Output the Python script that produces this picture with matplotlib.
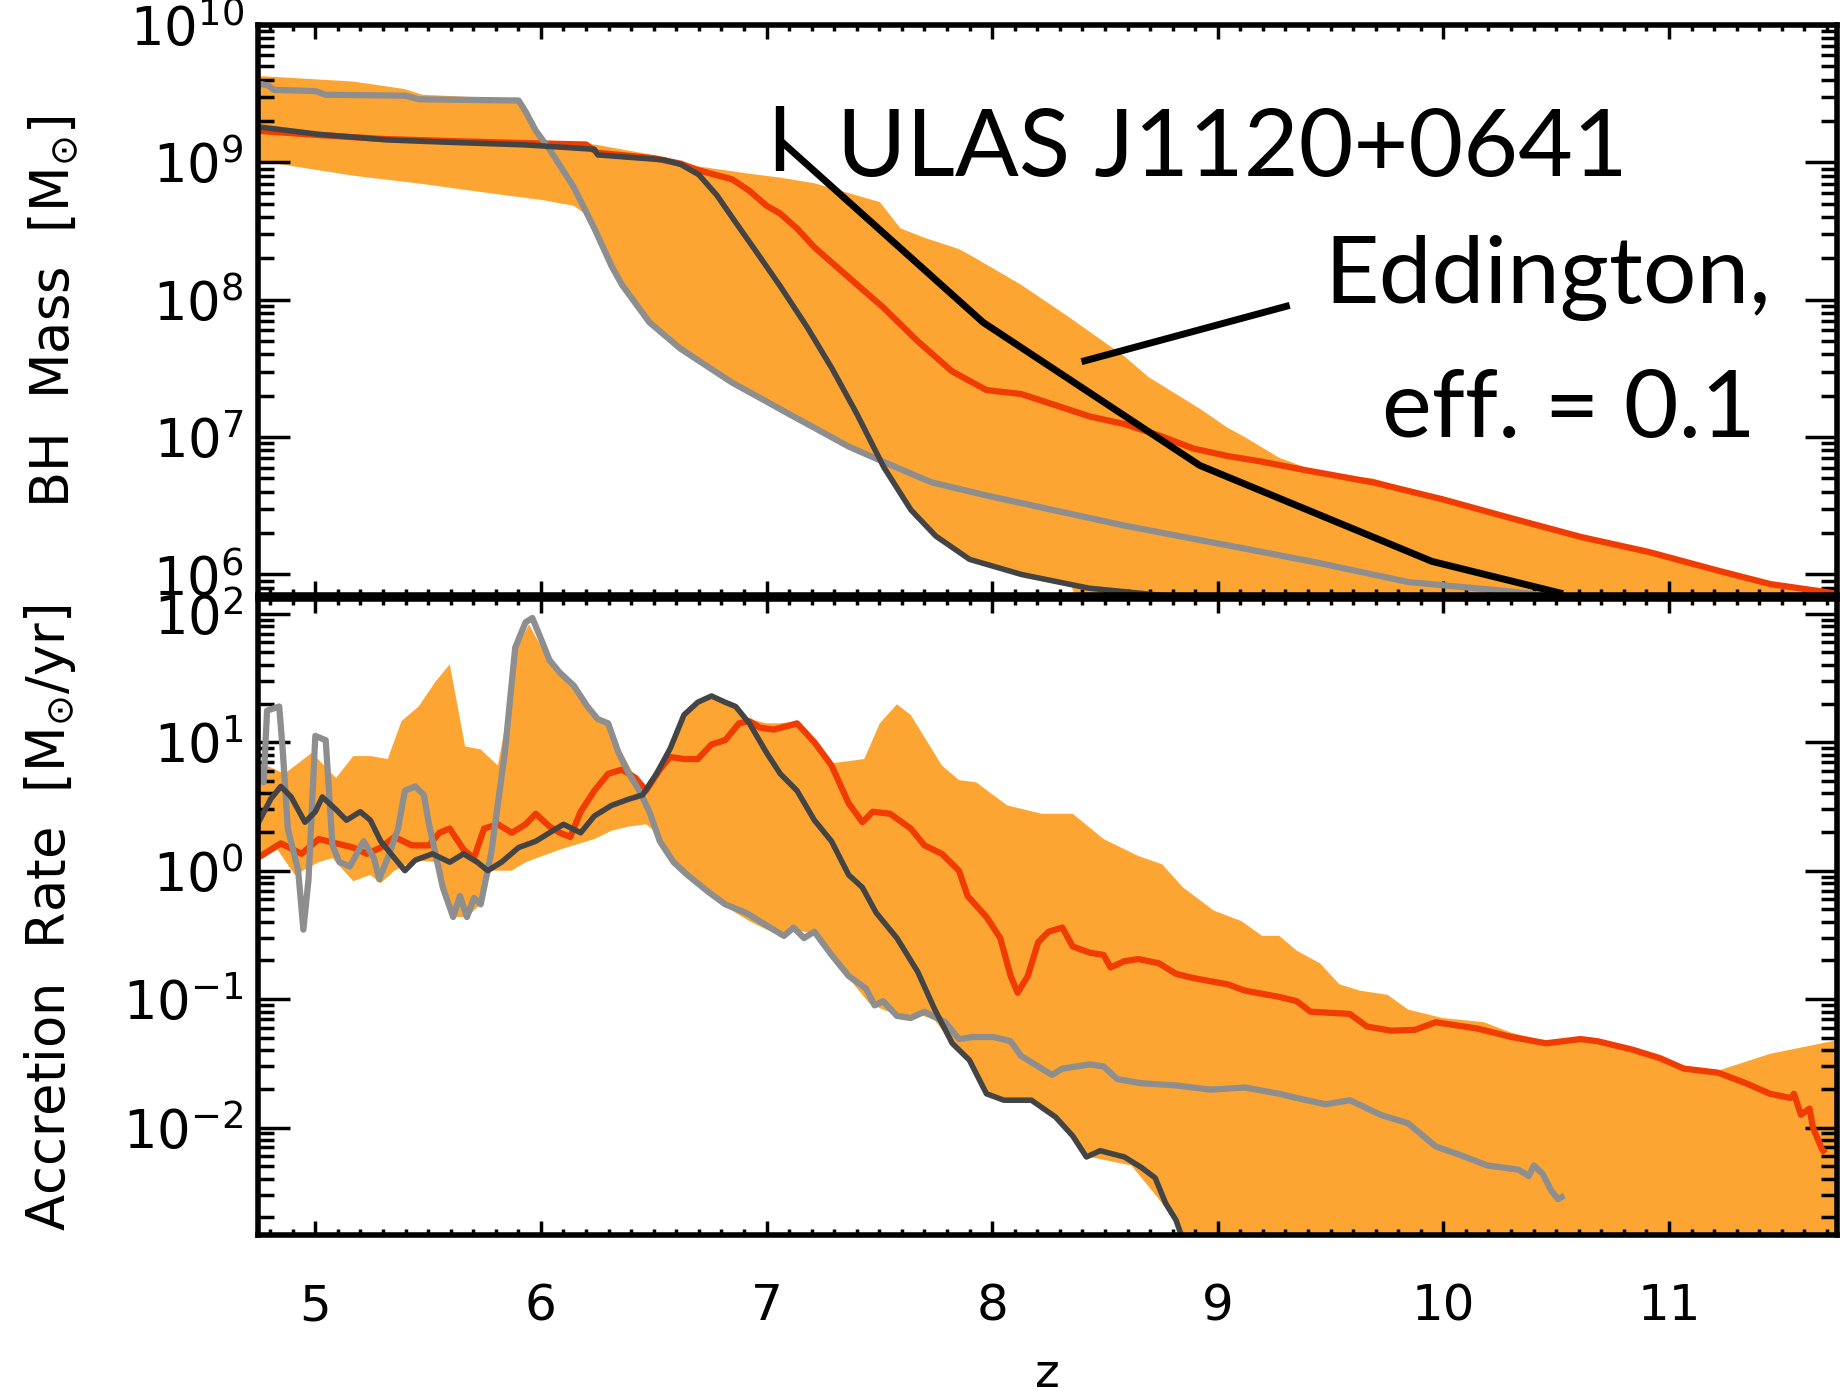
import numpy as np
import matplotlib
matplotlib.use('Agg')
import matplotlib.pyplot as plt
from matplotlib.ticker import MultipleLocator, LogLocator, NullFormatter

# redshift range shared by both panels
ZMIN, ZMAX = 4.744, 11.745

# ---- BH mass panel: (z, log10 M/Msun) ----
mass_band_hi = [(4.744, 9.629), (5.168, 9.588), (5.397, 9.533), (5.474, 9.492), (5.90, 9.46),
                (5.95, 9.35), (5.99, 9.20), (6.03, 9.14), (6.237, 9.13), (6.543, 9.04), (6.619, 9.00),
                (6.695, 8.971), (6.924, 8.917), (7.059, 8.889), (7.212, 8.848), (7.502, 8.711),
                (7.594, 8.519), (7.70, 8.451), (7.853, 8.369), (7.914, 8.314), (8.128, 8.109),
                (8.326, 7.89), (8.586, 7.588), (8.693, 7.437), (8.922, 7.205), (9.044, 7.068),
                (9.12, 7.0), (9.273, 6.849), (9.453, 6.74), (9.69, 6.698), (9.997, 6.547),
                (10.30, 6.41), (10.61, 6.273), (10.91, 6.164), (11.22, 6.027), (11.45, 5.93),
                (11.68, 5.876), (11.745, 5.86)]
mass_band_lo = [(4.744, 9.012), (5.168, 8.903), (5.474, 8.843), (5.779, 8.774), (6.008, 8.725),
                (6.145, 8.684), (6.20, 8.62), (6.237, 8.519), (6.313, 8.245), (6.359, 8.109),
                (6.481, 7.835), (6.619, 7.643), (6.848, 7.396), (7.0, 7.259), (7.104, 7.15),
                (7.212, 7.068), (7.364, 6.931), (7.50, 6.83), (7.52, 6.78), (7.64, 6.47),
                (7.75, 6.28), (7.90, 6.11), (8.13, 6.0), (8.35, 5.92), (8.45, 5.5), (11.745, 5.5)]
mass_red = [(4.744, 9.23), (5.0, 9.20), (5.3, 9.17), (5.6, 9.155), (5.93, 9.14), (6.2, 9.13),
            (6.25, 9.07), (6.5, 9.03), (6.62, 8.99), (6.695, 8.944), (6.848, 8.876), (6.924, 8.793),
            (7.0, 8.684), (7.059, 8.629), (7.135, 8.519), (7.212, 8.382), (7.364, 8.163),
            (7.517, 7.944), (7.67, 7.698), (7.822, 7.479), (7.975, 7.342), (8.128, 7.314),
            (8.281, 7.232), (8.433, 7.15), (8.586, 7.095), (8.739, 7.013), (8.891, 6.917),
            (9.044, 6.862), (9.197, 6.821), (9.386, 6.76), (9.69, 6.67), (9.997, 6.547),
            (10.30, 6.41), (10.61, 6.273), (10.91, 6.164), (11.22, 6.027), (11.45, 5.93),
            (11.68, 5.876), (11.745, 5.86)]
mass_dark = [(4.744, 9.259), (5.015, 9.204), (5.321, 9.163), (5.626, 9.144), (5.932, 9.127),
             (6.237, 9.095), (6.252, 9.054), (6.543, 9.018), (6.62, 8.985), (6.70, 8.91),
             (6.78, 8.76), (6.86, 8.57), (6.95, 8.36), (7.06, 8.10), (7.18, 7.80), (7.29, 7.50),
             (7.40, 7.17), (7.52, 6.78), (7.64, 6.47), (7.75, 6.28), (7.90, 6.11), (8.13, 6.0),
             (8.43, 5.90), (8.74, 5.85), (9.0, 5.82)]
mass_grey = [(4.744, 9.574), (4.79, 9.56), (4.817, 9.527), (5.0, 9.519), (5.046, 9.492),
             (5.40, 9.485), (5.458, 9.459), (5.901, 9.45), (5.932, 9.369), (5.977, 9.231),
             (6.038, 9.095), (6.145, 8.821), (6.237, 8.519), (6.313, 8.245), (6.359, 8.109),
             (6.481, 7.835), (6.619, 7.643), (6.848, 7.396), (7.0, 7.259), (7.104, 7.164),
             (7.212, 7.068), (7.364, 6.931), (7.517, 6.821), (7.731, 6.671), (7.975, 6.575),
             (8.357, 6.438), (8.586, 6.356), (8.891, 6.26), (9.197, 6.164), (9.453, 6.082),
             (9.844, 5.945), (10.30, 5.876), (10.6, 5.82)]
# Eddington-limited growth track of ULAS J1120+0641 and its mass range
edd_track = [(7.06, 9.16), (7.96, 7.835), (8.92, 6.794), (9.95, 6.095), (10.53, 5.86)]
qso_z, qso_logm_lo, qso_logm_hi = 7.06, 8.94, 9.41

# ---- accretion rate panel: (z, log10 Mdot [Msun/yr]) ----
rate_band_hi = [(4.744, 0.852), (4.863, 0.754), (4.985, 0.918), (5.092, 0.721), (5.168, 0.892),
                (5.244, 0.892), (5.321, 0.869), (5.382, 1.164), (5.458, 1.278), (5.534, 1.475),
                (5.596, 1.606), (5.664, 0.967), (5.733, 0.944), (5.809, 0.819), (5.855, 1.246),
                (5.886, 1.705), (5.947, 1.918), (6.038, 1.623), (6.145, 1.426), (6.237, 1.213),
                (6.298, 1.147), (6.359, 0.918), (6.420, 0.721), (6.466, 0.623), (6.512, 0.737),
                (6.573, 0.951), (6.634, 1.229), (6.695, 1.327), (6.756, 1.377), (6.817, 1.327),
                (6.878, 1.246), (6.924, 1.180), (7.000, 1.147), (7.059, 1.147), (7.135, 1.164),
                (7.212, 1.016), (7.288, 0.836), (7.433, 0.869), (7.502, 1.147), (7.578, 1.295),
                (7.639, 1.213), (7.777, 0.819), (7.853, 0.705), (7.929, 0.688), (8.067, 0.508),
                (8.220, 0.443), (8.357, 0.443), (8.494, 0.246), (8.647, 0.115), (8.754, 0.049),
                (8.846, -0.131), (8.983, -0.311), (9.105, -0.393), (9.197, -0.508), (9.273, -0.508),
                (9.350, -0.623), (9.453, -0.721), (9.539, -0.885), (9.630, -0.934), (9.753, -0.967),
                (9.844, -1.082), (9.997, -1.147), (10.180, -1.180), (10.302, -1.262),
                (10.455, -1.328), (10.684, -1.328), (10.913, -1.442), (11.066, -1.524),
                (11.218, -1.557), (11.448, -1.426), (11.745, -1.320)]
rate_band_lo = [(4.744, 0.082), (4.832, 0.164), (4.909, -0.033), (5.015, 0.066), (5.076, 0.098),
                (5.168, -0.082), (5.244, -0.033), (5.290, -0.098), (5.351, 0.0), (5.443, 0.082),
                (5.534, 0.066), (5.565, -0.131), (5.611, -0.361), (5.672, -0.361), (5.733, -0.262),
                (5.779, 0.0), (5.871, 0.0), (5.932, 0.066), (6.008, 0.115), (6.084, 0.164),
                (6.237, 0.246), (6.313, 0.311), (6.390, 0.344), (6.466, 0.361), (6.512, 0.295),
                (6.573, 0.098), (6.634, -0.033), (6.726, -0.164), (6.817, -0.279), (6.924, -0.393),
                (7.000, -0.459), (7.077, -0.508), (7.120, -0.459), (7.212, -0.492), (7.288, -0.639),
                (7.364, -0.836), (7.456, -1.033), (7.517, -1.082), (7.593, -1.131), (7.670, -1.115),
                (7.746, -1.164), (7.823, -1.344), (7.899, -1.475), (7.975, -1.737), (8.052, -1.787),
                (8.174, -1.787), (8.281, -1.918), (8.357, -2.065), (8.433, -2.229), (8.617, -2.295),
                (8.739, -2.557), (8.830, -2.770), (8.846, -3.5), (11.745, -3.5)]
rate_red = [(4.744, 0.098), (4.847, 0.213), (4.939, 0.131), (5.015, 0.246), (5.092, 0.213),
            (5.168, 0.180), (5.229, 0.131), (5.290, 0.180), (5.351, 0.262), (5.428, 0.197),
            (5.504, 0.197), (5.550, 0.295), (5.596, 0.328), (5.657, 0.164), (5.703, 0.098),
            (5.748, 0.328), (5.809, 0.361), (5.871, 0.295), (5.932, 0.361), (5.977, 0.443),
            (6.038, 0.344), (6.084, 0.295), (6.130, 0.262), (6.176, 0.459), (6.237, 0.623),
            (6.298, 0.754), (6.359, 0.787), (6.420, 0.721), (6.466, 0.623), (6.527, 0.787),
            (6.573, 0.885), (6.634, 0.869), (6.695, 0.869), (6.756, 0.983), (6.817, 1.016),
            (6.878, 1.147), (6.924, 1.164), (6.970, 1.114), (7.031, 1.098), (7.104, 1.131),
            (7.135, 1.147), (7.212, 1.000), (7.288, 0.819), (7.364, 0.524), (7.425, 0.377),
            (7.471, 0.459), (7.548, 0.443), (7.639, 0.328), (7.700, 0.197), (7.777, 0.131),
            (7.853, 0.0), (7.891, -0.197), (7.975, -0.361), (8.036, -0.525), (8.082, -0.820),
            (8.113, -0.951), (8.158, -0.820), (8.204, -0.557), (8.250, -0.475), (8.311, -0.443),
            (8.357, -0.590), (8.433, -0.639), (8.494, -0.656), (8.525, -0.754), (8.586, -0.705),
            (8.647, -0.688), (8.739, -0.721), (8.815, -0.803), (8.891, -0.836), (9.044, -0.885),
            (9.120, -0.934), (9.273, -0.983), (9.350, -1.016), (9.411, -1.098), (9.585, -1.115),
            (9.661, -1.213), (9.768, -1.246), (9.875, -1.239), (9.966, -1.180), (10.150, -1.229),
            (10.302, -1.295), (10.455, -1.344), (10.608, -1.311), (10.684, -1.328),
            (10.837, -1.393), (10.959, -1.459), (11.066, -1.541), (11.218, -1.573),
            (11.341, -1.655), (11.448, -1.737), (11.539, -1.770), (11.554, -1.737),
            (11.585, -1.901), (11.623, -1.852), (11.638, -2.000), (11.677, -2.164), (11.684, -2.180)]
rate_dark = [(4.744, 0.361), (4.802, 0.557), (4.847, 0.656), (4.893, 0.574), (4.954, 0.377),
             (5.000, 0.459), (5.031, 0.574), (5.092, 0.475), (5.138, 0.393), (5.199, 0.459),
             (5.244, 0.393), (5.290, 0.229), (5.351, 0.098), (5.397, 0.0), (5.443, 0.082),
             (5.519, 0.131), (5.596, 0.066), (5.657, 0.131), (5.718, 0.066), (5.764, 0.0),
             (5.825, 0.066), (5.901, 0.180), (5.977, 0.229), (6.038, 0.295), (6.100, 0.361),
             (6.176, 0.295), (6.237, 0.426), (6.313, 0.508), (6.390, 0.557), (6.451, 0.590),
             (6.512, 0.754), (6.573, 0.951), (6.634, 1.213), (6.695, 1.311), (6.756, 1.360),
             (6.817, 1.311), (6.863, 1.278), (6.924, 1.147), (7.000, 0.918), (7.061, 0.754),
             (7.135, 0.623), (7.212, 0.393), (7.288, 0.229), (7.364, -0.033), (7.425, -0.131),
             (7.486, -0.328), (7.578, -0.525), (7.670, -0.787), (7.746, -1.082), (7.823, -1.344),
             (7.899, -1.475), (7.975, -1.737), (8.052, -1.787), (8.174, -1.787), (8.281, -1.918),
             (8.357, -2.065), (8.418, -2.229), (8.479, -2.180), (8.586, -2.229), (8.662, -2.311),
             (8.723, -2.393), (8.769, -2.590), (8.815, -2.721), (8.838, -2.836), (8.853, -2.95)]
rate_grey = [(4.744, 0.819), (4.771, 0.688), (4.786, 1.246), (4.840, 1.278), (4.855, 0.951),
             (4.878, 0.328), (4.924, 0.0), (4.947, -0.459), (4.970, -0.066), (5.000, 1.049),
             (5.046, 1.016), (5.076, 0.197), (5.107, 0.066), (5.153, 0.033), (5.214, 0.229),
             (5.260, 0.098), (5.283, -0.066), (5.321, 0.098), (5.367, 0.328), (5.397, 0.623),
             (5.443, 0.656), (5.481, 0.590), (5.504, 0.361), (5.565, -0.131), (5.611, -0.361),
             (5.641, -0.197), (5.672, -0.361), (5.703, -0.213), (5.733, -0.262), (5.779, 0.131),
             (5.840, 0.918), (5.886, 1.737), (5.932, 1.934), (5.962, 1.967), (5.993, 1.836),
             (6.038, 1.639), (6.084, 1.541), (6.145, 1.442), (6.206, 1.278), (6.252, 1.180),
             (6.298, 1.147), (6.344, 0.918), (6.390, 0.754), (6.436, 0.623), (6.481, 0.459),
             (6.527, 0.229), (6.588, 0.066), (6.649, -0.033), (6.741, -0.164), (6.817, -0.262),
             (6.909, -0.328), (7.000, -0.426), (7.077, -0.508), (7.120, -0.443), (7.166, -0.525),
             (7.212, -0.475), (7.288, -0.656), (7.364, -0.820), (7.441, -0.918), (7.479, -1.049),
             (7.517, -1.016), (7.578, -1.131), (7.639, -1.147), (7.700, -1.098), (7.792, -1.180),
             (7.853, -1.311), (7.914, -1.295), (8.006, -1.295), (8.082, -1.328), (8.128, -1.442),
             (8.265, -1.590), (8.311, -1.541), (8.433, -1.508), (8.494, -1.524), (8.555, -1.623),
             (8.662, -1.655), (8.815, -1.672), (8.968, -1.705), (9.120, -1.688), (9.273, -1.737),
             (9.350, -1.770), (9.478, -1.819), (9.585, -1.787), (9.722, -1.901), (9.844, -1.967),
             (9.966, -2.147), (10.073, -2.213), (10.195, -2.295), (10.333, -2.328),
             (10.379, -2.377), (10.401, -2.295), (10.440, -2.360), (10.478, -2.491),
             (10.508, -2.557), (10.524, -2.541)]

ORANGE = '#FDA533'
RED = '#F03C00'
DARK = '#444444'
GREY = '#8E8E8E'


def xy(pairs):
    a = np.asarray(pairs, dtype=float)
    return a[:, 0], 10.0 ** a[:, 1]


def band(ax, hi, lo):
    zh, yh = xy(hi)
    zl, yl = xy(lo)
    ax.fill(np.r_[zh, zl[::-1]], np.r_[yh, yl[::-1]], color=ORANGE, lw=0, zorder=1)


def style(ax, ylim):
    ax.set_xlim(ZMIN, ZMAX)
    ax.set_yscale('log')
    ax.set_ylim(*ylim)
    ax.xaxis.set_major_locator(MultipleLocator(1))
    ax.xaxis.set_minor_locator(MultipleLocator(0.1))
    ax.yaxis.set_major_locator(LogLocator(base=10, numticks=20))
    ax.yaxis.set_minor_locator(LogLocator(base=10, subs=np.arange(2, 10), numticks=20))
    ax.yaxis.set_minor_formatter(NullFormatter())
    ax.tick_params(which='both', direction='in', top=True, right=True, width=2.5)
    ax.tick_params(axis='y', which='major', length=23, labelsize=38, pad=10)
    ax.tick_params(axis='y', which='minor', length=11.5)
    ax.tick_params(axis='x', which='major', length=10, labelsize=36, pad=34)
    ax.tick_params(axis='x', which='minor', length=4.5)
    for sp in ax.spines.values():
        sp.set_linewidth(4)
        sp.set_zorder(5)


fig = plt.figure(figsize=(18.45, 13.94), dpi=100)
ax1 = fig.add_axes([0.1396, 0.5732, 0.8561, 0.4089])
ax2 = fig.add_axes([0.1396, 0.1141, 0.8561, 0.4562])

# top: BH mass histories
band(ax1, mass_band_hi, mass_band_lo)
ax1.plot(*xy(mass_red), color=RED, lw=4.5, zorder=2)
ax1.plot(*xy(mass_grey), color=GREY, lw=4.5, zorder=3)
ax1.plot(*xy(mass_dark), color=DARK, lw=4, zorder=4)
ax1.plot(*xy(edd_track), color='black', lw=5, zorder=6, solid_capstyle='butt')
ax1.vlines(qso_z, 10 ** qso_logm_lo, 10 ** qso_logm_hi, color='black', lw=6, zorder=6)
style(ax1, (10 ** 5.851, 1e10))
ax1.tick_params(labelbottom=False)

txt = dict(family=['Lato', 'DejaVu Sans'], fontsize=68, color='black', va='baseline', zorder=7)
ax1.text(7.312, 10 ** 8.903, 'ULAS J1120+0641', ha='left', **txt)
ax1.text(11.452, 10 ** 7.976, 'Eddington,', ha='right', **txt)
ax1.text(11.386, 10 ** 7.0, 'eff. = 0.1', ha='right', **txt)
ax1.plot([9.319, 8.396], [10 ** 7.959, 10 ** 7.549], color='black', lw=5, zorder=6,
         solid_capstyle='butt')

# bottom: accretion rates
band(ax2, rate_band_hi, rate_band_lo)
ax2.plot(*xy(rate_red), color=RED, lw=4.5, zorder=2)
ax2.plot(*xy(rate_grey), color=GREY, lw=4.5, zorder=3)
ax2.plot(*xy(rate_dark), color=DARK, lw=4, zorder=4)
style(ax2, (10 ** -2.836, 10 ** 2.115))
ax2.set_xlabel('z', fontsize=34, labelpad=16)

fig.text(54 / 1845, 1 - 312 / 1394, r'BH  Mass  [M$_{\odot}$]', rotation=90,
         ha='center', va='center', fontsize=38)
fig.text(50 / 1845, 1 - 918 / 1394, r'Accretion  Rate  [M$_{\odot}$/yr]', rotation=90,
         ha='center', va='center', fontsize=38)

fig.savefig('out.png', dpi=100)
